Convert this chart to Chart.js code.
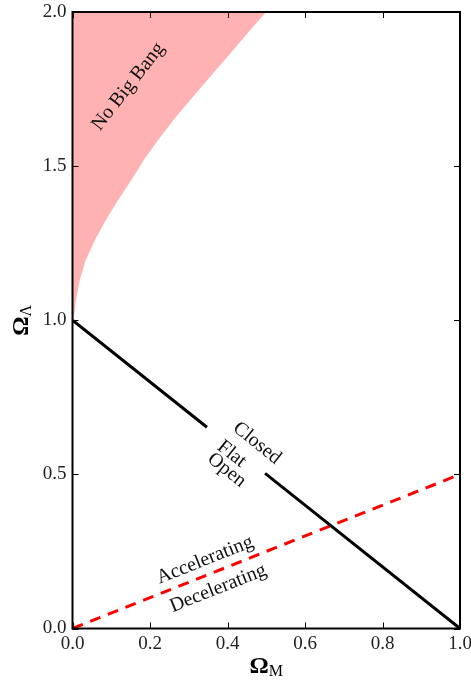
<!DOCTYPE html>
<html lang="en">
<head>
    <meta charset="UTF-8">
    <title>Omega_M vs Omega_Lambda</title>
    <script src="https://cdn.jsdelivr.net/npm/chart.js"></script>
    <style>
        html, body {
            margin: 0;
            padding: 0;
            background: #fff;
        }
        #wrap {
            width: 471px;
            height: 682px;
        }
    </style>
</head>
<body>
<div id="wrap">
    <canvas id="omegaChart" width="471" height="682"></canvas>
</div>
<script>
    // no big bang boundary
    const boundaryX = [0.0, 0.003, 0.009, 0.019, 0.034, 0.058, 0.086, 0.118, 0.152, 0.184, 0.221, 0.264, 0.311, 0.363, 0.415, 0.466, 0.5];
    const boundaryY = [1.0, 1.0, 1.066, 1.131, 1.195, 1.260, 1.325, 1.390, 1.455, 1.520, 1.585, 1.655, 1.725, 1.801, 1.877, 1.952, 2.0];

    // flat universe line (gap where the labels sit)
    const flatX = [0.0, 0.347, 0.42, 0.497, 1.0];
    const flatY = [1.0, 0.653, null, 0.503, 0.0];

    // accelerating / decelerating divide
    const accelX = [0.0, 1.0];
    const accelY = [0.0, 0.5];

    const xTicks = [0.0, 0.2, 0.4, 0.6, 0.8, 1.0];
    const yTicks = [0.0, 0.5, 1.0, 1.5, 2.0];

    function pts(xs, ys) {
        return xs.map((x, i) => ({x: x, y: ys[i]}));
    }

    // text notes, anchored in data units
    const notes = [
        {text: 'No Big Bang', x: 0.144, y: 1.758, angle: -52},
        {text: 'Closed', x: 0.476, y: 0.601, angle: 38.5},
        {text: 'Flat', x: 0.411, y: 0.566, angle: 38.5},
        {text: 'Open', x: 0.398, y: 0.514, angle: 38.5},
        {text: 'Accelerating', x: 0.342, y: 0.222, angle: -21.7},
        {text: 'Decelerating', x: 0.376, y: 0.130, angle: -21.7}
    ];

    const serif = '"Liberation Serif", "DejaVu Serif", serif';

    // frame with inward ticks on every side
    const framePlugin = {
        id: 'frame',
        afterDatasetsDraw(chart) {
            const ctx = chart.ctx;
            const a = chart.chartArea;
            const xs = chart.scales.x, ys = chart.scales.y;
            ctx.save();
            ctx.strokeStyle = '#000';
            ctx.lineWidth = 1;
            xTicks.forEach(v => {
                const px = Math.round(xs.getPixelForValue(v)) + 0.5;
                ctx.beginPath();
                ctx.moveTo(px, a.bottom); ctx.lineTo(px, a.bottom - 6);
                ctx.moveTo(px, a.top); ctx.lineTo(px, a.top + 6);
                ctx.stroke();
            });
            yTicks.forEach(v => {
                const py = Math.round(ys.getPixelForValue(v)) + 0.5;
                ctx.beginPath();
                ctx.moveTo(a.left, py); ctx.lineTo(a.left + 6, py);
                ctx.moveTo(a.right, py); ctx.lineTo(a.right - 6, py);
                ctx.stroke();
            });
            ctx.lineWidth = 2;
            ctx.strokeRect(a.left, a.top, a.right - a.left, a.bottom - a.top);
            ctx.restore();
        }
    };

    // rotated notes and the two axis titles with subscripts
    const textPlugin = {
        id: 'texts',
        afterDraw(chart) {
            const ctx = chart.ctx;
            const a = chart.chartArea;
            const xs = chart.scales.x, ys = chart.scales.y;
            ctx.save();
            ctx.fillStyle = '#111';
            ctx.font = '20px ' + serif;
            ctx.textAlign = 'center';
            ctx.textBaseline = 'middle';
            notes.forEach(n => {
                ctx.save();
                ctx.translate(xs.getPixelForValue(n.x), ys.getPixelForValue(n.y));
                ctx.rotate(n.angle * Math.PI / 180);
                ctx.fillText(n.text, 0, 0);
                ctx.restore();
            });

            // axis titles
            ctx.fillStyle = '#000';
            ctx.textAlign = 'left';
            ctx.textBaseline = 'alphabetic';
            const bigFont = 'bold 24px ' + serif;
            const subFont = '16px ' + serif;

            function title(sub, cx, cy, rot) {
                ctx.save();
                ctx.translate(cx, cy);
                ctx.rotate(rot);
                ctx.font = bigFont;
                const w1 = ctx.measureText('Ω').width;
                ctx.font = subFont;
                const w2 = ctx.measureText(sub).width;
                const start = -(w1 + w2) / 2;
                ctx.font = bigFont;
                ctx.fillText('Ω', start, 0);
                ctx.font = subFont;
                ctx.fillText(sub, start + w1, 3);
                ctx.restore();
            }
            title('M', (a.left + a.right) / 2, 673, 0);
            title('Λ', 28, (a.top + a.bottom) / 2, -Math.PI / 2);
            ctx.restore();
        }
    };

    const tickFont = {family: serif, size: 19};

    new Chart(document.getElementById('omegaChart'), {
        type: 'line',
        data: {
            datasets: [
                {
                    label: 'No Big Bang',
                    data: pts(boundaryX, boundaryY),
                    fill: 'end',
                    backgroundColor: 'rgb(255, 178, 178)',
                    borderWidth: 0,
                    borderColor: 'rgba(0,0,0,0)',
                    pointRadius: 0,
                    tension: 0
                },
                {
                    label: 'Flat',
                    data: pts(flatX, flatY),
                    borderColor: '#000',
                    borderWidth: 3,
                    pointRadius: 0,
                    spanGaps: false,
                    fill: false
                },
                {
                    label: 'q = 0',
                    data: pts(accelX, accelY),
                    borderColor: '#ff0000',
                    borderWidth: 3,
                    borderDash: [11, 8],
                    pointRadius: 0,
                    fill: false
                }
            ]
        },
        options: {
            responsive: false,
            animation: false,
            layout: {
                padding: {top: 12, right: 11, left: 0, bottom: 0}
            },
            plugins: {
                legend: {display: false},
                tooltip: {enabled: false}
            },
            scales: {
                x: {
                    type: 'linear',
                    min: 0,
                    max: 1,
                    afterBuildTicks(scale) {
                        scale.ticks = xTicks.map(v => ({value: v}));
                    },
                    afterFit(scale) {
                        scale.height = 53.5;
                        scale.paddingLeft = 0;
                        scale.paddingRight = 0;
                    },
                    grid: {display: false, drawTicks: false},
                    border: {display: false},
                    ticks: {
                        font: tickFont,
                        color: '#222',
                        padding: 4,
                        maxRotation: 0,
                        autoSkip: false,
                        callback: v => v.toFixed(1)
                    }
                },
                y: {
                    type: 'linear',
                    min: 0,
                    max: 2,
                    afterBuildTicks(scale) {
                        scale.ticks = yTicks.map(v => ({value: v}));
                    },
                    afterFit(scale) {
                        scale.width = 72.5;
                        scale.paddingTop = 0;
                        scale.paddingBottom = 0;
                    },
                    grid: {display: false, drawTicks: false},
                    border: {display: false},
                    ticks: {
                        font: tickFont,
                        color: '#222',
                        padding: 6,
                        autoSkip: false,
                        callback: v => v.toFixed(1)
                    }
                }
            }
        },
        plugins: [framePlugin, textPlugin]
    });
</script>
</body>
</html>
